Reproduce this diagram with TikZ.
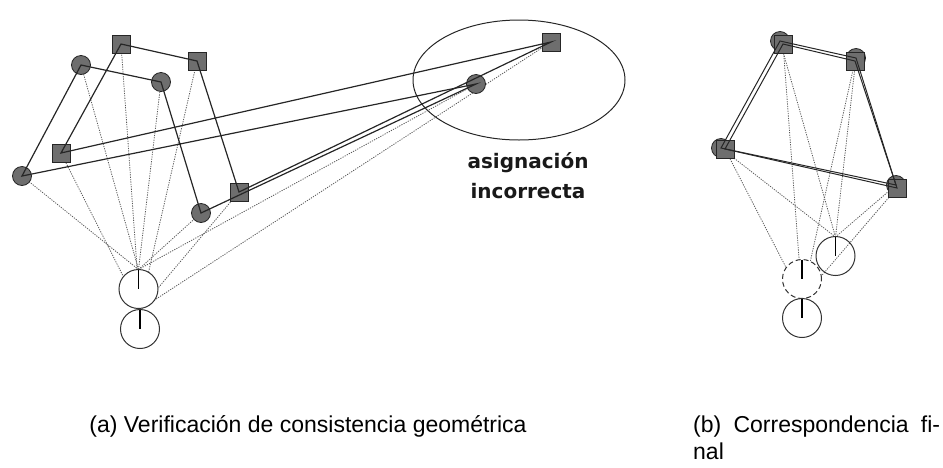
\documentclass[tikz,border=0pt]{standalone}
\usepackage{fontspec}
\usetikzlibrary{shapes.geometric}
\newfontfamily\capfont{Liberation Sans}
\newfontfamily\markfont{DejaVu Sans}
\begin{document}
\begin{tikzpicture}[x=1pt,y=-1pt,
  lmsquare/.style={draw=black!85, fill=black!57, line width=0.8pt, minimum size=18pt, inner sep=0pt},
  lmcircle/.style={circle, draw=black!85, fill=black!57, line width=0.8pt, minimum size=19pt, inner sep=0pt},
  robot/.style={circle, draw=black!80, line width=1pt, minimum size=39pt, inner sep=0pt},
  link/.style={draw=black!85, line width=1.2pt},
  sight/.style={draw=black!65, line width=0.8pt, dash pattern=on 1.2pt off 1.2pt},
  caption/.style={font=\capfont\fontsize{23}{27}\selectfont, inner sep=0pt}]
\useasboundingbox (0,0) rectangle (943,467);

% Landmark positions (a)
\coordinate (c1) at (81,65);   \coordinate (s1) at (121,44);
\coordinate (c2) at (161,82);  \coordinate (s2) at (197,61);
\coordinate (c3) at (22,176);  \coordinate (s3) at (61,153);
\coordinate (c4) at (201,213); \coordinate (s4) at (239,192);
\coordinate (c5) at (476,84);  \coordinate (s5) at (551,42);
\coordinate (ra) at (138.5,289); \coordinate (fa) at (138.5,269.5);
\coordinate (rb) at (140,329);   \coordinate (fb) at (140,309.5);

% Observations (a)
\foreach \i in {1,...,5} {
  \draw[sight] (fa) -- (c\i);
  \draw[sight] (fb) -- (s\i);
}

% Robot poses (a)
\node[robot, fill=white] (robA) at (ra) {};
\node[robot] (robB) at (rb) {};
\draw[line width=1.1pt] (fa) -- (robA.center);
\draw[line width=1.1pt] (fb) -- (robB.center);

% Landmarks (a)
\foreach \i in {1,...,5} {
  \node[lmcircle] (nc\i) at (c\i) {};
  \node[lmsquare] (ns\i) at (s\i) {};
}
\draw[link] (s1) -- (s2) -- (s4) -- (s5) -- (s3) -- cycle;
\draw[link] (c1) -- (c2) -- (c4) -- (c5) -- (c3) -- cycle;

% Wrong match
\node[ellipse, draw=black!85, line width=1pt, minimum width=212pt, minimum height=120pt] (wrong) at (519,80) {};
\node[font=\markfont\bfseries\fontsize{20}{30}\selectfont, anchor=base, text=black!90] (wronglbl) at (528,168) {asignación};
\node[font=\markfont\bfseries\fontsize{20}{30}\selectfont, anchor=base, text=black!90] (wronglbl2) at (528,198) {incorrecta};

% Landmark positions (b)
\coordinate (bc1) at (780,41);  \coordinate (bs1) at (783,44);
\coordinate (bc2) at (856,58);  \coordinate (bs2) at (855,61);
\coordinate (bc3) at (721,148); \coordinate (bs3) at (725,149);
\coordinate (bc4) at (896,185); \coordinate (bs4) at (897,188);
\coordinate (rr) at (835.5,256); \coordinate (fr) at (835.5,237);
\coordinate (rd) at (802,279);   \coordinate (fd) at (802,259.5);
\coordinate (rl) at (802,318);   \coordinate (fl) at (802,298.5);

% Observations (b)
\foreach \i in {1,...,4} {
  \draw[sight] (fr) -- (bc\i);
  \draw[sight] (fl) -- (bs\i);
}

% Robot poses (b)
\node[robot] (robR) at (rr) {};
\node[robot, fill=white, dash pattern=on 5pt off 3pt] (robD) at (rd) {};
\node[robot] (robL) at (rl) {};
\draw[line width=1.1pt] (fr) -- (robR.center);
\draw[line width=1.1pt] (fd) -- (robD.center);
\draw[line width=1.1pt] (fl) -- (robL.center);

% Landmarks (b)
\foreach \i in {1,...,4} {
  \node[lmcircle] (mc\i) at (bc\i) {};
  \node[lmsquare] (ms\i) at (bs\i) {};
}
\draw[link, line width=1pt] (bs1) -- (bs2) -- (bs4) -- (bs3) -- cycle;
\draw[link, line width=1pt] (bc1) -- (bc2) -- (bc4) -- (bc3) -- cycle;

% Captions
\node[caption, anchor=base] (capa) at (308,432) {(a) Verificación de consistencia geométrica};
\node[caption, anchor=base west] (capb) at (693,432) {\makebox[247pt][s]{(b) Correspondencia fi-}};
\node[caption, anchor=base west] (capb2) at (693,459) {nal};
\end{tikzpicture}
\end{document}
